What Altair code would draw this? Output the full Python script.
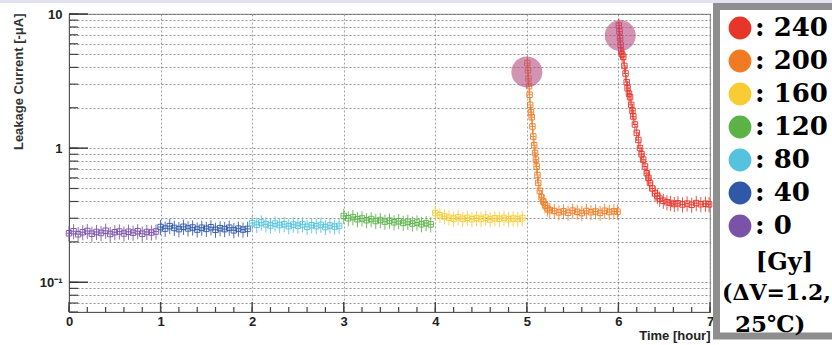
import altair as alt
import pandas as pd

# ---- data ---------------------------------------------------------------
doses = ["240", "200", "160", "120", "80", "40", "0"]
dose_colors = ["#e8352a", "#f07b22", "#f8cd34", "#5bb348", "#55c3de", "#2f58a8", "#7a52a8"]

# flat segments: one reading every 0.05 h inside each hour
flat_step = 0.05
flat_0 = [0.232, 0.240, 0.228, 0.236, 0.241, 0.230, 0.237, 0.233, 0.242, 0.229,
          0.236, 0.239, 0.231, 0.238, 0.234, 0.240, 0.230, 0.237, 0.235, 0.239]
flat_40 = [0.258, 0.251, 0.262, 0.254, 0.249, 0.259, 0.252, 0.256, 0.247, 0.255,
           0.250, 0.257, 0.246, 0.253, 0.249, 0.255, 0.244, 0.251, 0.247, 0.250]
flat_80 = [0.276, 0.268, 0.279, 0.270, 0.265, 0.274, 0.267, 0.271, 0.262, 0.269,
           0.264, 0.270, 0.259, 0.266, 0.262, 0.268, 0.258, 0.265, 0.260, 0.263]
flat_120 = [0.312, 0.300, 0.306, 0.295, 0.299, 0.290, 0.296, 0.286, 0.291, 0.283,
            0.288, 0.280, 0.285, 0.277, 0.282, 0.274, 0.279, 0.271, 0.276, 0.270]
flat_160 = [0.328, 0.316, 0.309, 0.303, 0.298, 0.305, 0.297, 0.302, 0.295, 0.301,
            0.296, 0.303, 0.294, 0.300, 0.297, 0.302, 0.295, 0.299, 0.296, 0.301]

# spike-and-recovery segments
t_200 = [5.005, 5.012, 5.018, 5.024, 5.030, 5.037, 5.045, 5.053, 5.061, 5.070,
         5.080, 5.090, 5.099, 5.107, 5.116, 5.125, 5.142, 5.160, 5.180, 5.200,
         5.225, 5.25, 5.30, 5.35, 5.40, 5.45, 5.50, 5.55, 5.60, 5.65,
         5.70, 5.75, 5.80, 5.85, 5.90, 5.95, 5.99]
i_200 = [4.3, 3.8, 3.3, 2.9, 2.5, 2.1, 1.85, 1.7, 1.45, 1.22,
         1.05, 0.92, 0.82, 0.73, 0.63, 0.55, 0.48, 0.43, 0.40, 0.375,
         0.355, 0.345, 0.340, 0.332, 0.338, 0.330, 0.342, 0.335, 0.328, 0.340,
         0.333, 0.337, 0.329, 0.341, 0.334, 0.338, 0.336]
t_240 = [6.005, 6.012, 6.018, 6.024, 6.030, 6.040, 6.053, 6.065, 6.078, 6.090,
         6.100, 6.115, 6.127, 6.140, 6.153, 6.163, 6.180, 6.200, 6.218, 6.236,
         6.253, 6.270, 6.290, 6.310, 6.328, 6.345, 6.370, 6.400, 6.425, 6.450,
         6.490, 6.530, 6.570, 6.610, 6.650, 6.700, 6.750, 6.800, 6.850, 6.900,
         6.950, 6.990]
i_240 = [8.2, 7.4, 6.6, 5.9, 5.3, 5.0, 4.8, 4.1, 3.6, 3.1,
         2.8, 2.55, 2.4, 2.1, 1.9, 1.72, 1.5, 1.3, 1.15, 1.0,
         0.9, 0.82, 0.73, 0.65, 0.6, 0.55, 0.5, 0.46, 0.44, 0.42,
         0.405, 0.395, 0.39, 0.383, 0.388, 0.380, 0.386, 0.378, 0.389, 0.382,
         0.385, 0.381]

# highlighted peaks
peak_t = [5.0, 6.02]
peak_i = [3.7, 6.9]

# axis ticks / grid
y_grid = [0.06, 0.07, 0.08, 0.09, 0.1, 0.2, 0.3, 0.4, 0.5, 0.6, 0.7, 0.8, 0.9,
          1, 2, 3, 4, 5, 6, 7, 8, 9, 10]
y_decades = [0.1, 1, 10]
x_hours = [0, 1, 2, 3, 4, 5, 6, 7]
x_minor = [h / 5 for h in range(0, 36)]

# ---- tables ----------------------------------------------------------------
rows = []
for hour, (dose, vals) in enumerate(zip(["0", "40", "80", "120", "160"],
                                        [flat_0, flat_40, flat_80, flat_120, flat_160])):
    for k, v in enumerate(vals):
        rows.append({"t": hour + k * flat_step, "i": v, "dose": dose})
for t, v in zip(t_200, i_200):
    rows.append({"t": t, "i": v, "dose": "200"})
for t, v in zip(t_240, i_240):
    rows.append({"t": t, "i": v, "dose": "240"})
df = pd.DataFrame(rows)
peaks = pd.DataFrame({"t": peak_t, "i": peak_i})
legend_df = pd.DataFrame({"dose": doses})

W, H = 641, 298

x_scale = alt.Scale(domain=[0, 7], nice=False, zero=False)
y_scale = alt.Scale(type="log", domain=[0.06, 10], nice=False)

x_axis = alt.Axis(values=x_hours, grid=True, gridColor="#8a8a8a", gridDash=[2, 2],
                  gridWidth=0.8, ticks=False, domainColor="#555", labelFlush=False,
                  labelFont="Liberation Sans", labelFontSize=13, labelFontWeight="bold",
                  labelColor="#222", labelPadding=3,
                  title="Time [hour]", titleFont="Liberation Sans", titleFontSize=13,
                  titleFontWeight="bold", titleColor="#222", titleAnchor="end",
                  titleAlign="right", titleBaseline="middle", titleX=W, titleY=23)
y_axis = alt.Axis(values=y_grid, grid=True, gridColor="#555", gridDash=[2, 2],
                  gridWidth=0.8, gridOpacity=0.8, ticks=False, domainColor="#555",
                  labelOverlap=False,
                  labelExpr="datum.value == 10 ? '10' : datum.value == 1 ? '1' : "
                            "(abs(datum.value - 0.1) < 1e-9 ? '10⁻¹' : '')",
                  labelFont="Liberation Sans", labelFontSize=13, labelFontWeight="bold",
                  labelColor="#222", labelPadding=7,
                  title="Leakage Current [-μA]", titleFont="Liberation Sans",
                  titleFontSize=13, titleFontWeight="bold", titleColor="#333",
                  titleAngle=270, titleAlign="right", titleBaseline="middle",
                  titleX=-51, titleY=-1)

color = alt.Color("dose:N", scale=alt.Scale(domain=doses, range=dose_colors), legend=None)

X = alt.X("t:Q", scale=x_scale, axis=x_axis)
Y = alt.Y("i:Q", scale=y_scale, axis=y_axis)

# each reading carries a ±13 % current error and a ±0.025 h time bin
base = alt.Chart(df).transform_calculate(
    lo="datum.i * 0.87", hi="datum.i * 1.13",
    t0="datum.t - 0.025", t1="datum.t + 0.025",
)

vbars = base.mark_rule(strokeWidth=1, opacity=0.85).encode(
    x=X, y=alt.Y("lo:Q", scale=y_scale, axis=y_axis), y2="hi:Q", color=color)
hbars = base.mark_rule(strokeWidth=1, opacity=0.85).encode(
    x=alt.X("t0:Q", scale=x_scale, axis=x_axis), x2="t1:Q", y=Y, color=color)
squares = base.mark_point(shape="square", filled=False, size=30, strokeWidth=1,
                          opacity=0.9).encode(x=X, y=Y, color=color)

peak_marks = alt.Chart(peaks).mark_circle(size=960, color="#b4457c", opacity=0.58).encode(
    x=X, y=Y)

# inward axis ticks
ytick_df = pd.DataFrame({"i": y_grid})
ydec_df = pd.DataFrame({"i": y_decades})
yticks = alt.Chart(ytick_df).mark_rule(color="#444", strokeWidth=1.2).encode(
    y=Y, x=alt.value(0), x2=alt.value(9))
ydecs = alt.Chart(ydec_df).mark_rule(color="#333", strokeWidth=1.4).encode(
    y=Y, x=alt.value(0), x2=alt.value(19))
xtick_df = pd.DataFrame({"t": x_minor})
xhour_df = pd.DataFrame({"t": x_hours})
xticks = alt.Chart(xtick_df).mark_rule(color="#444", strokeWidth=1.2).encode(
    x=X, y=alt.value(H - 5), y2=alt.value(H))
xhours = alt.Chart(xhour_df).mark_rule(color="#444", strokeWidth=1.4).encode(
    x=X, y=alt.value(H - 10), y2=alt.value(H))

one = alt.Data(values=[{}])
top_band = alt.Chart(one).mark_rect(color="#e1e2f2").encode(
    x=alt.value(-69), x2=alt.value(763), y=alt.value(-14), y2=alt.value(-11))
frame = alt.Chart(one).mark_rect(fill="white", stroke="#8e8e8e", strokeWidth=7).encode(
    x=alt.value(647.5), x2=alt.value(775), y=alt.value(-7.5), y2=alt.value(322))

note_font = dict(font="DejaVu Serif", fontWeight="bold", color="black", baseline="middle")
note_gy = alt.Chart(one).mark_text(text="[Gy]", fontSize=24, align="right", **note_font).encode(
    x=alt.value(744), y=alt.value(249))
note_dv = alt.Chart(one).mark_text(text="(ΔV=1.2,", fontSize=22, align="left", **note_font).encode(
    x=alt.value(653), y=alt.value(279))
note_t = alt.Chart(one).mark_text(text="25℃)", fontSize=23, align="left", **note_font).encode(
    x=alt.value(666), y=alt.value(311))

main = alt.layer(
    top_band, yticks, ydecs, xticks, xhours, vbars, hbars, squares, peak_marks,
    frame, note_gy, note_dv, note_t,
)

# dose key: one row per dose, stacked on its own point scale
key_y = alt.Y("dose:N", sort=doses, axis=None,
              scale=alt.Scale(type="point", domain=doses, range=[14, 212], padding=0))
key_dots = alt.Chart(legend_df).mark_circle(size=520, opacity=1).encode(
    x=alt.value(671), y=key_y, color=color)
key_text = alt.Chart(legend_df).transform_calculate(
    label="': ' + datum.dose"
).mark_text(font="DejaVu Serif", fontWeight="bold", fontSize=26, align="left",
            baseline="middle", color="black").encode(
    x=alt.value(686), y=key_y, text="label:N")
key = alt.layer(key_dots, key_text)

chart = alt.layer(main, key).resolve_scale(y="independent").properties(
    width=W, height=H,
    padding={"left": 69, "top": 14, "right": 122, "bottom": 33},
    autosize=alt.AutoSizeParams(type="none"),
    background="white",
).configure_view(stroke="#9a9a9a", strokeWidth=1.2)

chart.save("out.html", embed_options={"renderer": "svg", "actions": False})
